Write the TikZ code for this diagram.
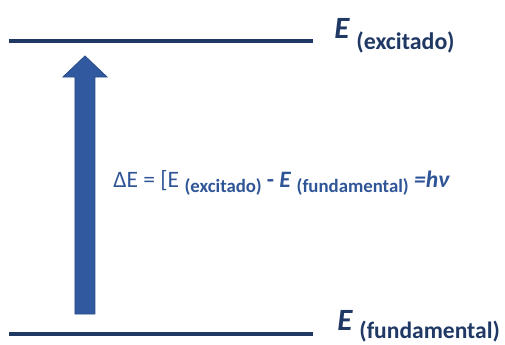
\documentclass[tikz,border=0pt]{standalone}
\usepackage{fontspec}
\setmainfont{Carlito}
\usetikzlibrary{positioning}

\definecolor{navy}{HTML}{1F3864}
\definecolor{midblue}{HTML}{2F5597}
\definecolor{arrowfill}{HTML}{3159A0}
\definecolor{arrowedge}{HTML}{2A4D8A}

% lowered bold text: shift, size, text
\newcommand{\lowtext}[3]{\raisebox{#1}{\fontsize{#2}{#2}\selectfont\bfseries\upshape #3}}

\begin{document}
\begin{tikzpicture}[
        x=0.02cm, y=-0.02cm,
        level/.style={
            draw=navy,
            line width=2.8pt
        },
        elabel/.style={
            text=navy,
            anchor=base west,
            inner sep=0pt,
            font=\fontsize{17.6}{20}\selectfont\bfseries\itshape
        },
        eqlabel/.style={
            text=midblue,
            anchor=base west,
            inner sep=0pt,
            font=\fontsize{13.4}{15}\selectfont
        },
        bigarrow/.style={
            fill=arrowfill,
            draw=arrowedge,
            line width=0.5pt,
            line join=miter
        }
        ]

        \useasboundingbox (0,0) rectangle (505,345);

        \coordinate (topL) at (9,41);
        \coordinate (topR) at (313,41);
        \coordinate (botL) at (9,334);
        \coordinate (botR) at (313,334);

        \draw [level] (topL) -- (topR);
        \draw [level] (botL) -- (botR);

        \node (lexc) [elabel] at (334,38) {E\hspace{4pt}\lowtext{-6.8pt}{13.6}{(excitado)}};
        \node (lfund) [elabel] at (337,330) {E\hspace{4pt}\lowtext{-5pt}{13.4}{(fundamental)}};

        \filldraw [bigarrow] (75,314) -- (75,77) -- (63,77) -- (85,56)
            -- (107,77) -- (95,77) -- (95,314) -- cycle;

        \node (deltaE) [eqlabel] at (113,187) {ΔE = [E \lowtext{-3.4pt}{10.7}{(excitado)}
            \textbf{- \textit{E}} \lowtext{-3.4pt}{10.7}{(fundamental)} \textbf{\textit{=hν}}};

    \end{tikzpicture}
\end{document}
